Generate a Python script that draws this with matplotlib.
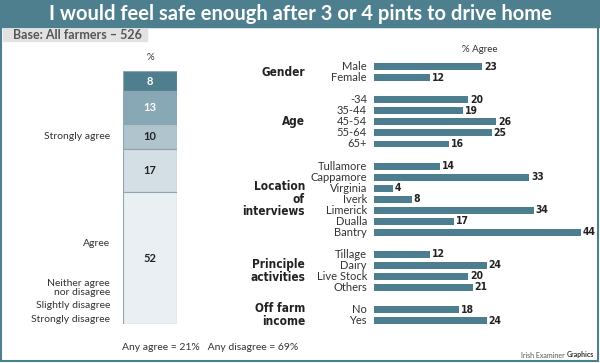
import matplotlib
matplotlib.use("Agg")
import matplotlib.pyplot as plt
import matplotlib.transforms as mtransforms
import matplotlib.font_manager as fm
from matplotlib.patches import Rectangle

# Data
stack_values = [8, 13, 10, 17, 52]
stack_colors = ['#4f7f8f', '#88a8b5', '#afc4cd', '#d3dfe5', '#e9eff3']
stack_text = ['white', 'white', '#222222', '#222222', '#222222']

groups = ['Gender', 'Age', 'Location\nof\ninterviews', 'Principle\nactivities', 'Off farm\nincome']
group_cats = [
    ['Male', 'Female'],
    ['-34', '35-44', '45-54', '55-64', '65+'],
    ['Tullamore', 'Cappamore', 'Virginia', 'Iverk', 'Limerick', 'Dualla', 'Bantry'],
    ['Tillage', 'Dairy', 'Live Stock', 'Others'],
    ['No', 'Yes'],
]
group_vals = [
    [23, 12],
    [20, 19, 26, 25, 16],
    [14, 33, 4, 8, 34, 17, 44],
    [12, 24, 20, 21],
    [18, 24],
]

W, H = 600, 363
teal = '#4e7f8f'
bar_col = '#4d7e8f'
txt = '#333333'
reg = 'Lato'

# condensed bold face for group names and values, if one is installed
narrow = [f.fname for f in fm.fontManager.ttflist
          if ('narrow' in f.fname.lower() or 'cond' in f.fname.lower())
          and 'bold' in f.fname.lower()
          and 'italic' not in f.fname.lower() and 'oblique' not in f.fname.lower()]
narrow.sort(key=lambda p: 0 if 'Liberation' in p else 1)

def cond_fp(size):
    if narrow:
        return fm.FontProperties(fname=narrow[0], size=size)
    return fm.FontProperties(family='Roboto', weight='bold', size=size)

fig = plt.figure(figsize=(6, 3.63), dpi=100)
fig.patch.set_facecolor('white')

def px(x, y):
    return x / W, 1 - y / H

# banner, frame, base box
fig.patches.append(Rectangle(px(0, 27), 1, 27 / H, transform=fig.transFigure, color=teal, zorder=0))
fig.patches.append(Rectangle(px(1, 361), 597 / W, 334 / H, transform=fig.transFigure,
                             fill=False, edgecolor=teal, lw=1.5, zorder=5))
fig.patches.append(Rectangle(px(3, 40.5), 144 / W, 11.5 / H, transform=fig.transFigure,
                             color='#e2e2e2', zorder=1))
fig.text(*px(300, 14), 'I would feel safe enough after 3 or 4 pints to drive home',
         ha='center', va='center', color='white', fontsize=14.5, fontweight='bold', family=reg)
fig.text(*px(13, 35), 'Base: All farmers \u2013 526', ha='left', va='center',
         color='#555555', fontsize=9, fontweight='bold', family=reg)

# stacked bar
ax1 = fig.add_axes([123 / W, 1 - 324 / H, 54 / W, 253 / H])
bottom = 0
for v, c, tc in zip(stack_values, stack_colors, stack_text):
    ax1.bar(0.5, v, width=1, bottom=bottom, color=c, edgecolor='#8ea4ae', lw=0.8)
    ax1.text(0.5, bottom + v / 2, str(v), ha='center', va='center', color=tc,
             fontsize=8, fontweight='bold', family=reg)
    bottom += v
ax1.set_xlim(0, 1)
ax1.set_ylim(100, 0)
ax1.axis('off')
fig.text(*px(150, 58), '%', ha='center', va='center', color=txt, fontsize=7, family=reg)

left_labels = [('Strongly agree', 137), ('Agree', 244), ('Neither agree\nnor disagree', 288),
               ('Slightly disagree', 306), ('Strongly disagree', 319)]
for lab, yy in left_labels:
    fig.text(*px(110, yy), lab, ha='right', va='center', color=txt, fontsize=7.5,
             family=reg, linespacing=1.05)

fig.text(*px(122, 348), 'Any agree = 21%   Any disagree = 69%', ha='left', va='center',
         color=txt, fontsize=7.5, family=reg)

# footer credit: place the regular part just left of the bold part
renderer = fig.canvas.get_renderer()
gt = fig.text(*px(594, 355), 'Graphics', ha='right', va='center', color='#333333',
              fontsize=5, family=reg, fontweight='bold')
gx = gt.get_window_extent(renderer).x0
fig.text((gx - 2) / W, 1 - 355 / H, 'Irish Examiner', ha='right', va='center',
         color='#555555', fontsize=5, family=reg)

# right bars
step = 11.04
top_px = 66.7
ax2 = fig.add_axes([374 / W, 1 - 330 / H, 220 / W, 270 / H])
ax2.set_xlim(0, 220 / 4.7)
ax2.set_ylim((330 - top_px) / step, (60 - top_px) / step)
ax2.axis('off')
trans = mtransforms.blended_transform_factory(fig.transFigure, ax2.transData)

row = 0
for g, cats, vals in zip(groups, group_cats, group_vals):
    rows = list(range(row, row + len(cats)))
    ax2.barh(rows, vals, height=0.63, color=bar_col)
    for r, c, v in zip(rows, cats, vals):
        ax2.text(-1.5, r, c, ha='right', va='center', color=txt, fontsize=8,
                 family=reg, clip_on=False)
        ax2.text(v + 0.4, r, str(v), ha='left', va='center', color='#222222',
                 fontproperties=cond_fp(7.5), clip_on=False)
    ax2.text(305 / W, (rows[0] + rows[-1]) / 2, g, ha='right', va='center', color='#222222',
             fontproperties=cond_fp(8.5), linespacing=0.95, transform=trans, clip_on=False)
    row += len(cats) + 1

fig.text(*px(480, 50), '% Agree', ha='center', va='center', color=txt, fontsize=7, family=reg)

fig.savefig('out.png', dpi=100, facecolor='white')
